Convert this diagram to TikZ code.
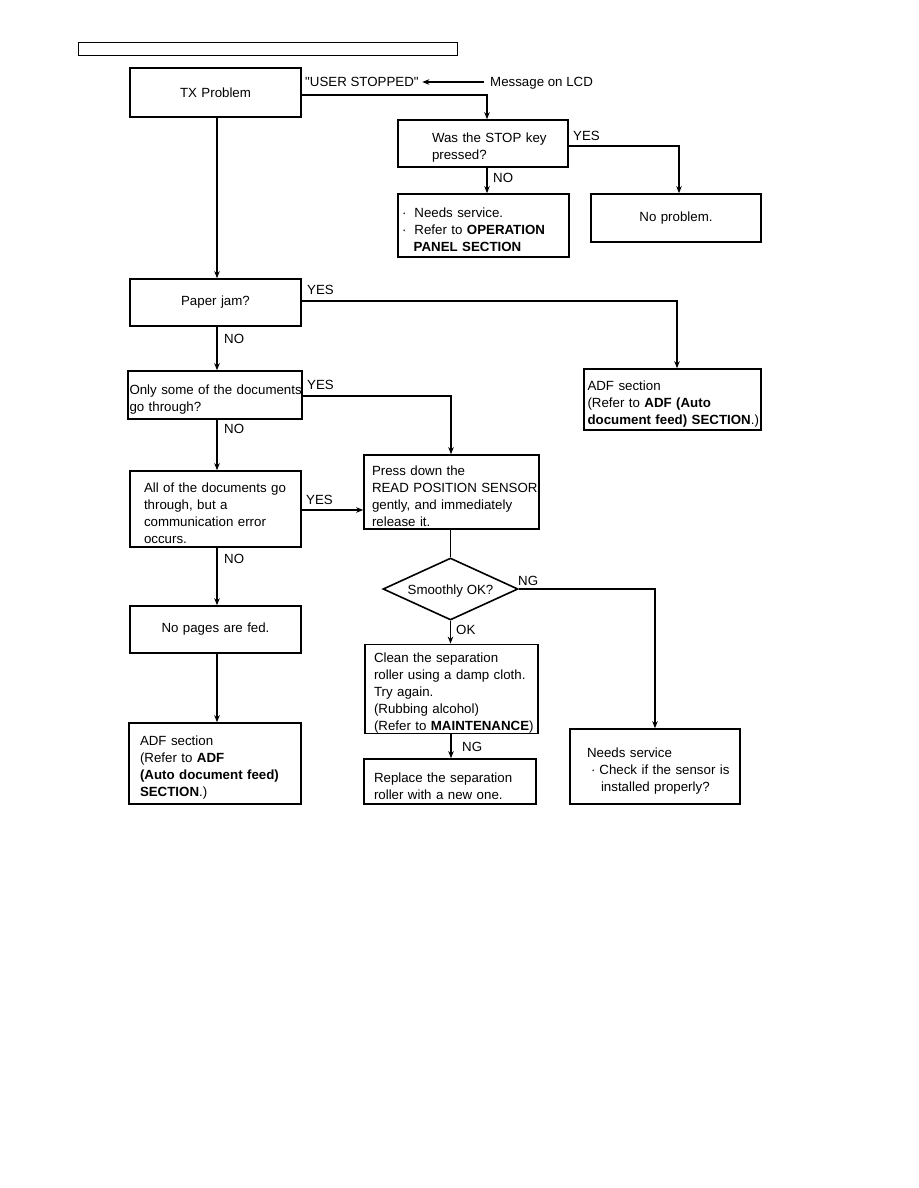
\documentclass[tikz,border=0pt]{standalone}
\usepackage{fontspec}
\setmainfont{Liberation Sans}[Ligatures=TeXOff]
\usetikzlibrary{arrows.meta,shapes.geometric}
\newcommand\lpad[1]{\hyphenpenalty=10000\leftskip=#1\relax\rule{0pt}{18.5pt}}
\begin{document}
\begin{tikzpicture}[x=1pt,y=-1pt,
  every node/.style={font=\fontsize{13.3}{17}\selectfont},
  box/.style={draw, line width=1.6pt, inner xsep=0pt, inner ysep=0pt, align=left},
  cbox/.style={draw, line width=1.6pt, inner xsep=0pt, inner ysep=0pt, align=center},
  line/.style={line width=1.3pt},
  arr/.style={line width=1.3pt, -{Stealth[length=7pt,width=5.5pt]}},
  lbl/.style={anchor=base west, inner sep=0pt}]
\useasboundingbox (0,0) rectangle (918,1188);

% header bar
\node[draw, line width=1pt, minimum width=379pt, minimum height=13pt, inner sep=0pt] (hdr) at (267.5,49.5) {};

% boxes
\node[cbox, text width=171pt, minimum height=49pt] (tx) at (215.5,92.5) {TX Problem};
\node[box, text width=170pt, minimum height=47pt] (stop) at (483,143.5) {\lpad{34pt}Was the STOP key\\pressed?\par};
\node[box, text width=171pt, minimum height=63pt] (svc1) at (483.5,225.5) {\lpad{4pt}·\hspace{8pt}Needs service.\\·\hspace{8pt}Refer to \textbf{OPERATION}\\\hspace*{11.7pt}\textbf{PANEL SECTION}\par};
\node[cbox, text width=170pt, minimum height=48pt] (noprob) at (676,218) {No problem.};
\node[cbox, text width=171pt, minimum height=47pt] (jam) at (215.5,302.5) {Paper jam?};
\node[box, text width=177pt, minimum height=61pt] (adf1) at (672.5,399.5) {\lpad{3.5pt}ADF section\\(Refer to \textbf{ADF (Auto}\\\mbox{\textbf{document feed) SECTION}.)}\par};
\node[box, text width=174pt, minimum height=48pt] (only) at (215,395) {\lpad{1.5pt}\mbox{Only some of the documents}\\go through?\par};
\node[box, text width=171pt, minimum height=76pt] (all) at (215.5,509) {\lpad{14pt}All of the documents go\\through, but a\\communication error\\occurs.\par};
\node[box, text width=175pt, minimum height=74pt] (press) at (451.5,492) {\lpad{8pt}Press down the\\\mbox{READ POSITION SENSOR}\\gently, and immediately\\release it.\par};
\node[draw, line width=1.6pt, shape=diamond, aspect=2.2, inner sep=0pt, minimum width=135pt, minimum height=62pt] (dia) at (450.5,589) {\rule{0pt}{14pt}Smoothly OK?};
\node[box, text width=173pt, minimum height=88pt] (clean) at (451.5,689) {\lpad{9pt}Clean the separation\\roller using a damp cloth.\\Try again.\\(Rubbing alcohol)\\(Refer to \textbf{MAINTENANCE})\par};
\node[box, text width=172pt, minimum height=45pt] (replace) at (450,781.5) {\lpad{10pt}Replace the separation\\roller with a new one.\par};
\node[box, text width=170pt, minimum height=75pt] (svc2) at (655,766.5) {\lpad{17pt}Needs service\\\hspace*{4pt}·\hspace{4pt}Check if the sensor is\\\hspace*{14pt}installed properly?\par};
\node[cbox, text width=171pt, minimum height=47pt] (nopages) at (215.5,629.5) {No pages are fed.};
\node[box, text width=172pt, minimum height=81pt] (adf2) at (215,763.5) {\lpad{11pt}ADF section\\(Refer to \textbf{ADF}\\\textbf{(Auto document feed)}\\\textbf{SECTION}.)\par};

% top labels
\node[lbl] (us) at (305,87) {"USER STOPPED"};
\node[lbl] (msg) at (490,87) {Message on LCD};
\draw[arr] ([xshift=-6pt,yshift=5pt]msg.base west) -- ([xshift=3.5pt,yshift=5pt]us.base east);

% connectors
\draw[arr] ([yshift=-2.5pt]tx.east) -| ([xshift=4pt]stop.north);
\draw[arr] ([yshift=-2.5pt]stop.east) -| ([xshift=3pt]noprob.north);
\draw[arr] ([xshift=4pt]stop.south) -- ([xshift=4pt]stop.south |- svc1.north);
\draw[arr] ([xshift=1.5pt]tx.south) -- ([xshift=1.5pt]jam.north);
\draw[arr] ([yshift=1.5pt]jam.east) -| ([xshift=4.5pt]adf1.north);
\draw[arr] ([xshift=1.5pt]jam.south) -- ([xshift=2pt]only.north);
\draw[arr] ([yshift=-1pt]only.east) -| ([xshift=-0.5pt]press.north);
\draw[arr] ([xshift=2pt]only.south) -- ([xshift=1.5pt]all.north);
\draw[arr] ([yshift=-1pt]all.east) -- ([yshift=-1pt]all.east -| press.west);
\draw[arr] ([xshift=1.5pt]all.south) -- ([xshift=1.5pt]nopages.north);
\draw[arr] ([xshift=1.5pt]nopages.south) -- ([xshift=2pt]adf2.north);
\draw[line] (dia.north |- press.south) -- (dia.north);
\draw[arr] (dia.east) -| (svc2.north);
\draw[arr] (dia.south) -- (dia.south |- clean.north);
\draw[arr] ([xshift=-0.5pt]clean.south) -- ([xshift=-0.5pt]clean.south |- replace.north);

% branch labels
\node[lbl] (y1) at (573,140) {YES};
\node[lbl] (n1) at (493,182) {NO};
\node[lbl] (y2) at (307,294) {YES};
\node[lbl] (n2) at (224,343) {NO};
\node[lbl] (y3) at (307,389) {YES};
\node[lbl] (n3) at (224,433) {NO};
\node[lbl] (y4) at (306,504) {YES};
\node[lbl] (n4) at (224,563) {NO};
\node[lbl] (g1) at (518,585) {NG};
\node[lbl] (ok) at (456,634) {OK};
\node[lbl] (g2) at (462,751) {NG};
\end{tikzpicture}
\end{document}
